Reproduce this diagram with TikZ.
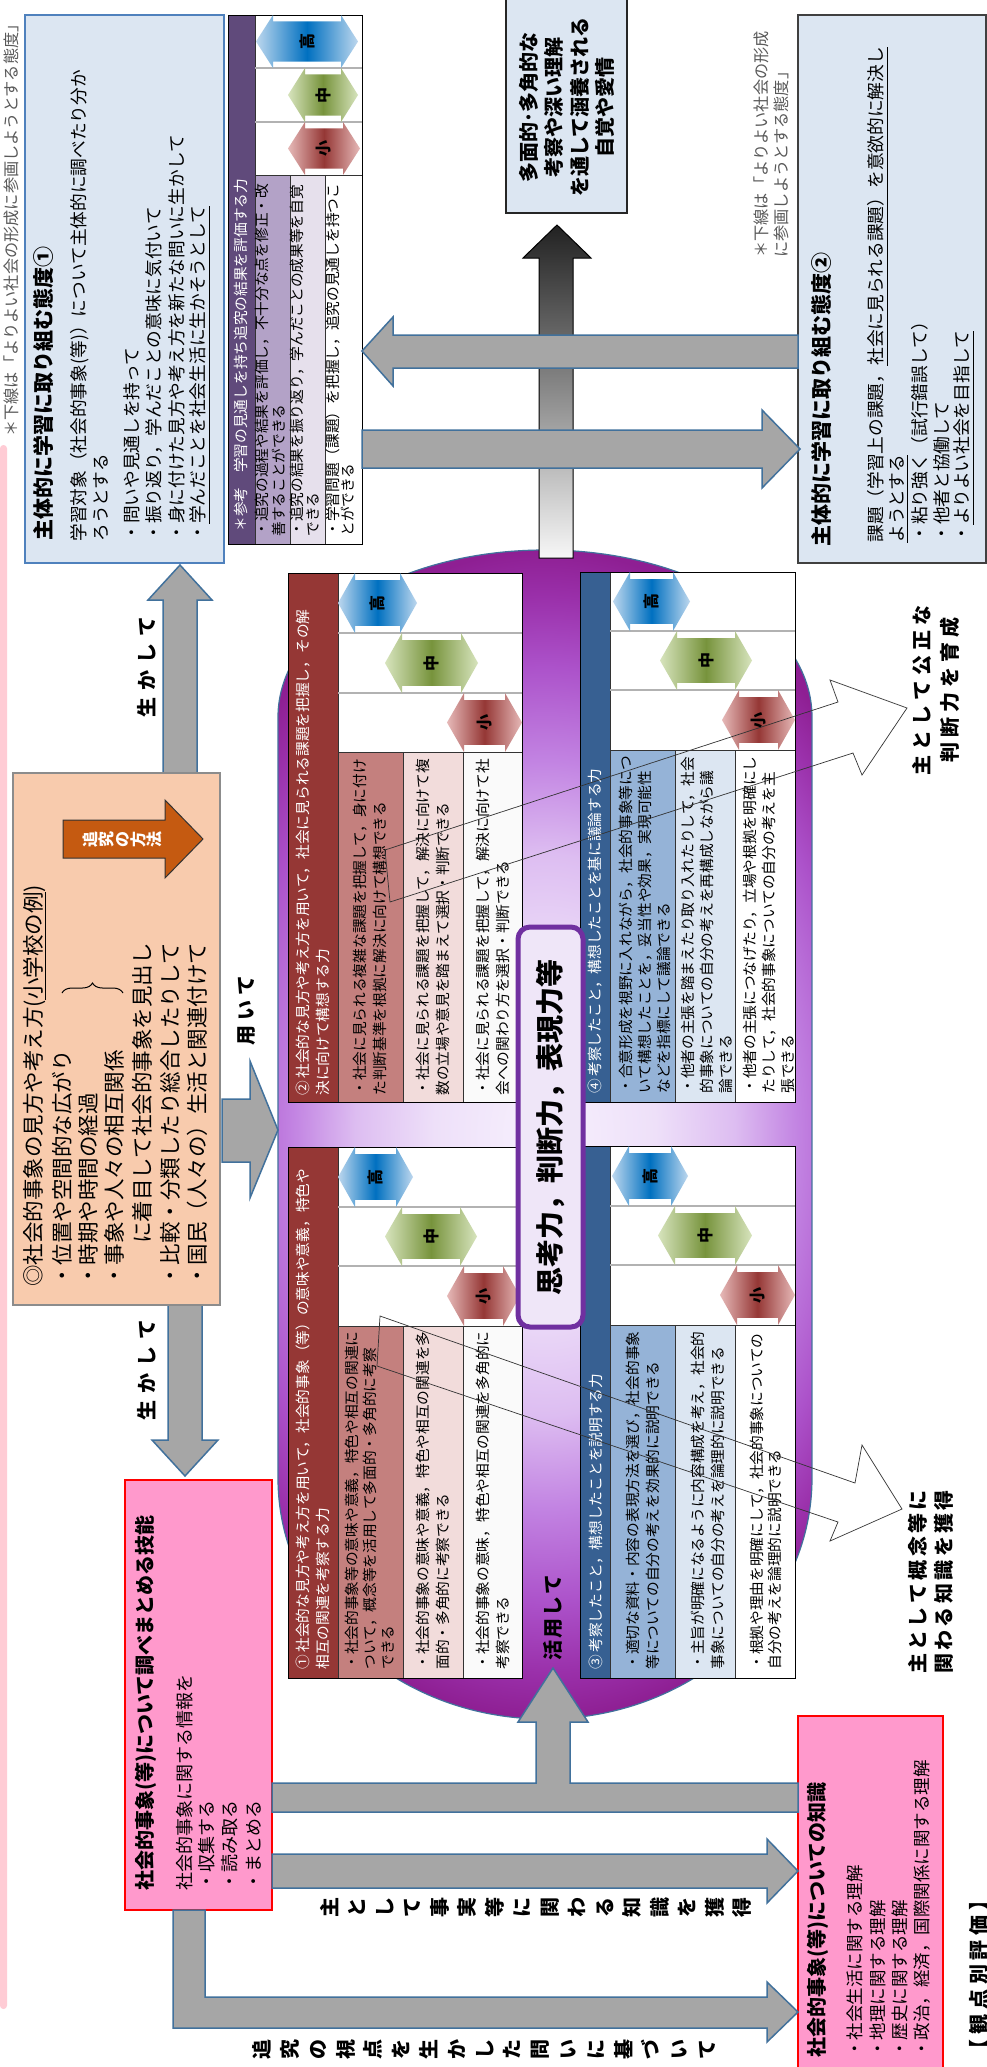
\documentclass[tikz,border=0pt]{standalone}
\usepackage{fontspec}
\setmainfont{Noto Sans CJK JP}
\usetikzlibrary{decorations.pathreplacing}
\definecolor{boxblue}{HTML}{DCE6F2}
\definecolor{boxoneborder}{HTML}{4F81BD}
\definecolor{arrgray}{HTML}{A6A6A6}
\definecolor{arrblue}{HTML}{41719C}
\definecolor{puH}{HTML}{604A7B}
\definecolor{puA}{HTML}{B3A2C7}
\definecolor{puB}{HTML}{E6E0EC}
\definecolor{puC}{HTML}{FFFFFF}
\definecolor{rdH}{HTML}{953735}
\definecolor{rdA}{HTML}{C4807E}
\definecolor{rdB}{HTML}{F2DCDB}
\definecolor{rdC}{HTML}{FAFAFA}
\definecolor{blH}{HTML}{376092}
\definecolor{blA}{HTML}{95B3D7}
\definecolor{blB}{HTML}{DCE6F2}
\definecolor{blC}{HTML}{FFFFFF}
\definecolor{buL}{HTML}{BDD7EE}
\definecolor{buD}{HTML}{0070C0}
\definecolor{grL}{HTML}{D7E4BD}
\definecolor{grD}{HTML}{77933C}
\definecolor{reL}{HTML}{E6B9B8}
\definecolor{reD}{HTML}{953735}
\definecolor{orangebox}{HTML}{F8CBAD}
\definecolor{orangearr}{HTML}{C55A11}
\definecolor{pinkbox}{HTML}{FF99CC}
\definecolor{pinkstrip}{HTML}{FFCCD5}
\definecolor{violetb}{HTML}{7030A0}
\definecolor{shikofill}{HTML}{EFE6F8}
\definecolor{notegray}{HTML}{595959}
\definecolor{bkTop}{HTML}{222222}
\definecolor{bkMid}{HTML}{8A8A8A}
\definecolor{bkBot}{HTML}{F7F7F7}
\definecolor{pg0}{HTML}{F7F1FD}
\definecolor{pg1}{HTML}{EEE0F9}
\definecolor{pg2}{HTML}{DDBDF1}
\definecolor{pg3}{HTML}{C283E2}
\definecolor{pg4}{HTML}{AC52CA}
\definecolor{pg5}{HTML}{9A30AA}
\definecolor{pg6}{HTML}{8E1F93}
\definecolor{pg7}{HTML}{7A1080}
\pgfdeclareradialshading{purpleglow}{\pgfpoint{0bp}{0bp}}{color(0bp)=(pg0); color(7bp)=(pg1); color(12bp)=(pg2); color(16bp)=(pg3); color(20bp)=(pg4); color(23bp)=(pg5); color(25bp)=(pg6); color(36bp)=(pg7); color(50bp)=(pg7)}
\makeatletter
\newcommand\pitched[2]{\@tfor\pch:=#2\do{\makebox[#1]{\pch}}}
\makeatother
\newcommand\myS{\fontsize{7.35}{9}\selectfont}
\newcommand\myM{\fontsize{8.85}{10}\selectfont}
\newcommand\myN{\fontsize{8.1}{9}\selectfont}
\newcommand\myT{\fontsize{10.5}{12}\selectfont\bfseries}
\newcommand\myO{\fontsize{10.75}{13}\selectfont}
\newcommand\myB{\fontsize{10}{12}\selectfont\bfseries}
\newcommand\myBB{\fontsize{10}{14}\selectfont\bfseries}
\newcommand\myK{\fontsize{9}{11}\selectfont}
\newcommand\myKK{\fontsize{8.75}{11}\selectfont}
\newcommand\myL{\fontsize{8}{9}\selectfont\bfseries}
\newcommand\tblbox[9]{%
 \fill[#9H] (#1,#6) rectangle (#2,#8);
 \fill[white] (#2,#6) rectangle (#5,#7);
 \fill[#9A] (#2,#7) rectangle (#3,#8);
 \fill[#9B] (#3,#7) rectangle (#4,#8);
 \fill[#9C] (#4,#7) rectangle (#5,#8);
 \draw[tsep] (#2,#7) -- (#5,#7) (#3,#7) -- (#3,#8) (#4,#7) -- (#4,#8) (#2,#6) -- (#2,#8);
 \draw[tborder] (#1,#6) rectangle (#5,#8);
}
\newcommand\dblarr[7]{%
 \pgfmathsetmacro\dxa{#1+17}\pgfmathsetmacro\dxb{#2-17}%
 \pgfmathsetmacro\dya{#3-#4}\pgfmathsetmacro\dyb{#3+#4}%
 \pgfmathsetmacro\dsa{#3-0.76*#4}\pgfmathsetmacro\dsb{#3+0.76*#4}%
 \shade[left color=#5L, right color=#5L, middle color=#5D] (#1,#3) -- (\dxa,\dya) -- (\dxa,\dsa) -- (\dxb,\dsa) -- (\dxb,\dya) -- (#2,#3) -- (\dxb,\dyb) -- (\dxb,\dsb) -- (\dxa,\dsb) -- (\dxa,\dyb) -- cycle;
 \node[rotate=90, inner sep=0pt, font=\myL] (#7) at ({(#1+#2)/2},#3) {#6};
}
\begin{document}
\begin{tikzpicture}[x=0.5pt,y=-0.5pt,
  lb/.style={rotate=90, anchor=west, inner sep=0pt},
  lbc/.style={rotate=90, anchor=center, inner sep=0pt, align=center},
  garrow/.style={fill=arrgray, draw=arrblue, line width=0.75pt, line join=miter},
  tborder/.style={draw=black, line width=0.5pt},
  tsep/.style={draw=black!80, line width=0.4pt},
  cellsep/.style={draw=black!30, line width=0.9pt},
  callout/.style={draw=black!80, line width=0.35pt, line join=miter},
  pinkframe/.style={fill=pinkbox, draw=red, line width=1.4pt},
  wtext/.style={text=white}]
\useasboundingbox (0,0) rectangle (986,2067);
\fill[white] (0,0) rectangle (986,2067);
% left pink strip
\fill[pinkstrip, rounded corners=1.7pt] (0,445) rectangle (7,2009);
% notes
\node[lb, font=\myN, text=notegray] (note1) at (11,437) {＊下線は「よりよい社会の形成に参画しようとする態度」};
\node[lb, font=\myN, text=notegray] (note2a) at (761,258) {＊下線は「よりよい社会の形成};
\node[lb, font=\myN, text=notegray] (note2b) at (781,258) {に参画しようとする態度」};
% box 1
\draw[fill=boxblue, draw=boxoneborder, line width=1pt] (25,15) rectangle (224,563);
\node[lb, font=\myT] (b1t) at (43,541) {主体的に学習に取り組む態度①};
\node[lb, font=\myM] (b1a) at (80,542) {学習対象（社会的事象(等)）について主体的に調べたり分か};
\node[lb, font=\myM] (b1b) at (101,542) {ろうとする};
\node[lb, font=\myM] (b1c) at (132,542) {・問いや見通しを持って};
\node[lb, font=\myM] (b1d) at (154,542) {・振り返り，学んだことの意味に気付いて};
\node[lb, font=\myM] (b1e) at (177,542) {・身に付けた見方や考え方を新たな問いに生かして};
\node[lb, font=\myM] (b1f) at (200,542) {・\underline{学んだことを社会生活に生かそうとして}};
% box 2
\draw[fill=boxblue, draw=black!75, line width=0.75pt] (798,15) rectangle (986,563);
\node[lb, font=\myT] (b2t) at (821,547) {主体的に学習に取り組む態度②};
\node[lb, font=\myM] (b2a) at (878,543) {課題（学習上の課題，\underline{社会に見られる課題）を意欲的に解決し}};
\node[lb, font=\myM] (b2b) at (899,543) {\underline{ようとする}};
\node[lb, font=\myM] (b2c) at (920,543) {・粘り強く（試行錯誤して）};
\node[lb, font=\myM] (b2d) at (942,543) {・他者と協働して};
\node[lb, font=\myM] (b2e) at (964,543) {・\underline{よりよい社会を目指して}};
% top box
\draw[fill=boxblue, draw=black!85, line width=0.75pt] (506,-2) rectangle (627,213);
\node[lbc, font=\fontsize{10}{12.75}\selectfont\bfseries] (topbox) at (567,107) {多面的･多角的な\\考察や深い理解\\を通して涵養される\\自覚や愛情};
% reference table
\tblbox{228}{255}{290}{325}{362}{15}{175}{544}{pu}
\draw[cellsep] (255,68) -- (362,68) (255,122) -- (362,122);
\draw[tsep] (255,175) -- (362,175);
\dblarr{256}{358}{41.5}{26.5}{bu}{高}{rfh}
\dblarr{288}{358}{95}{27}{gr}{中}{rfm}
\dblarr{288}{360}{148.5}{26.5}{re}{小}{rfl}
\node[lb, font=\myS, wtext] (rfhd) at (241,532) {＊参考　学習の見通しを持ち追究の結果を評価する力};
\node[lb, font=\myS] (rf1a) at (262,537) {・追究の過程や結果を評価し，不十分な点を修正・改};
\node[lb, font=\myS] (rf1b) at (279,537) {善することができる};
\node[lb, font=\myS] (rf2a) at (297,537) {・追究の結果を振り返り，学んだことの成果等を自覚};
\node[lb, font=\myS] (rf2b) at (313,537) {できる};
\node[lb, font=\myS] (rf3a) at (333,537) {・学習問題（課題）を把握し，追究の見通しを持つこ};
\node[lb, font=\myS] (rf3b) at (348,537) {とができる};
% purple capsule
\begin{scope}
\clip (278,717) arc[start angle=180,end angle=360,x radius=267,y radius=167] -- (812,1478) arc[start angle=0,end angle=180,x radius=267,y radius=241] -- cycle;
\shade[shading=purpleglow] (150,550) rectangle (940,1719);
\end{scope}
\draw[arrblue, line width=0.6pt] (278,717) arc[start angle=180,end angle=360,x radius=267,y radius=167] -- (812,1478) arc[start angle=0,end angle=180,x radius=267,y radius=241] -- cycle;
% black arrow up
\shadedraw[top color=bkTop, bottom color=bkBot, middle color=bkMid, draw=black, line width=0.5pt] (539,558) -- (539,258) -- (523,258) -- (557,225) -- (591,258) -- (573,258) -- (573,558) -- cycle;
% gray arrows top
\draw[garrow] (798,335) -- (393,335) -- (393,317) -- (362,351) -- (393,386) -- (393,368) -- (798,368) -- cycle;
\draw[garrow] (362,430) -- (762,430) -- (762,410) -- (800,449) -- (762,488) -- (762,468) -- (362,468) -- cycle;
% up arrow to box 1 and down arrow to skill box
\draw[garrow] (163,773) -- (163,600) -- (148,600) -- (180,565) -- (212,600) -- (197,600) -- (197,773) -- cycle;
\draw[garrow] (168,1305) -- (202,1305) -- (202,1440) -- (218,1440) -- (185,1476) -- (152,1440) -- (168,1440) -- cycle;
\node[lbc, font=\myBB] (ikashi1) at (147,667) {\pitched{13.5pt}{生かして}};
\node[lbc, font=\myBB] (ikashi2) at (147,1370) {\pitched{13.5pt}{生かして}};
% use arrow
\draw[garrow] (222,1099) -- (250,1099) -- (250,1061) -- (278,1130) -- (250,1198) -- (250,1162) -- (222,1162) -- cycle;
\node[lbc, font=\myBB] (mochiite) at (247,1010) {\pitched{12.5pt}{用いて}};
% orange box
\draw[fill=orangebox, draw=black!45, line width=0.6pt] (13,773) rectangle (220,1305);
\draw[fill=orangearr, draw=black!80, line width=0.5pt] (63,820) -- (165,820) -- (165,800) -- (203,839) -- (165,878) -- (165,858) -- (63,858) -- cycle;
\node[lbc, font=\fontsize{8}{8}\selectfont\bfseries, text=white] (tsm) at (122,839) {追\\究\\の\\方\\法};
\node[lb, font=\myO] (o1) at (35,1287) {◎社会的事象の見方や考え方(\underline{小学校の例})};
\node[lb, font=\myO] (o2) at (62,1287) {・位置や空間的な広がり};
\node[lb, font=\myO] (o3) at (88,1287) {・時期や時間の経過};
\node[lb, font=\myO] (o4) at (114,1287) {・事象や人々の相互関係};
\node[lb, font=\myO] (o5) at (142,1244) {に着目して社会的事象を見出し};
\node[lb, font=\myO] (o6) at (170,1287) {・比較・分類したり総合したりして};
\node[lb, font=\myO] (o7) at (197,1287) {・国民（人々の）生活と関連付けて};
\draw[decorate, decoration={brace, amplitude=5pt}, line width=0.5pt] (62,993) -- (123,993);
% skill box
\draw[pinkframe] (125,1480) rectangle (272,1910);
\node[lb, font=\myB] (s1) at (146,1891) {社会的事象(等)について調べまとめる技能};
\node[lb, font=\myK] (s2) at (185,1891) {社会的事象に関する情報を};
\node[lb, font=\myK] (s3) at (207,1891) {・収集する};
\node[lb, font=\myK] (s4) at (230,1891) {・読み取る};
\node[lb, font=\myK] (s5) at (254,1891) {・まとめる};
% knowledge box
\draw[pinkframe] (798,1716) rectangle (943,2075);
\node[lb, font=\myB] (k1) at (818,2058) {社会的事象(等)についての知識};
\node[lb, font=\myKK] (k2) at (855,2058) {・社会生活に関する理解};
\node[lb, font=\myKK] (k3) at (878,2058) {・地理に関する理解};
\node[lb, font=\myKK] (k4) at (900,2058) {・歴史に関する理解};
\node[lb, font=\myKK] (k5) at (922,2058) {・政治，経済，国際関係に関する理解};
% bottom arrows
\draw[garrow] (272,1783) -- (536,1783) -- (536,1722) -- (518,1722) -- (553,1668) -- (588,1722) -- (570,1722) -- (570,1783) -- (798,1783) -- (798,1812) -- (272,1812) -- cycle;
\draw[garrow] (272,1854) -- (767,1854) -- (767,1839) -- (798,1871) -- (767,1903) -- (767,1888) -- (272,1888) -- cycle;
\draw[garrow] (173,1910) -- (205,1910) -- (205,1997) -- (767,1997) -- (767,1982) -- (798,2012) -- (767,2042) -- (767,2028) -- (173,2028) -- cycle;
\node[lbc, font=\fontsize{10}{13.75}\selectfont\bfseries] (v1) at (536,1907) {主\\と\\し\\て\\事\\実\\等\\に\\関\\わ\\る\\知\\識\\を\\獲\\得};
\node[lbc, font=\fontsize{10}{13.9}\selectfont\bfseries] (v2) at (484,2049) {追\\究\\の\\視\\点\\を\\生\\か\\し\\た\\問\\い\\に\\基\\づ\\い\\て};
\node[lb, font=\myBB] (kanten) at (979,2062) {\pitched{12.4pt}{【観点別評価】}};
% tables
\tblbox{288}{338}{403}{463}{522}{573}{752}{1102}{rd}
\draw[cellsep] (338,633) -- (522,633) (338,693) -- (522,693);
\tblbox{580}{610}{675}{735}{795}{572}{750}{1102}{bl}
\draw[cellsep] (610,631) -- (795,631) (610,690) -- (795,690);
\tblbox{288}{338}{403}{463}{522}{1147}{1326}{1678}{rd}
\draw[cellsep] (338,1207) -- (522,1207) (338,1266) -- (522,1266);
\tblbox{580}{610}{675}{735}{795}{1146}{1325}{1678}{bl}
\draw[cellsep] (610,1206) -- (795,1206) (610,1265) -- (795,1265);
\dblarr{338}{417}{603}{30}{bu}{高}{t2h}
\dblarr{385}{478}{663}{30}{gr}{中}{t2m}
\dblarr{447}{522}{722.5}{29.5}{re}{小}{t2l}
\dblarr{613}{690}{601.5}{29.5}{bu}{高}{t4h}
\dblarr{660}{752}{660.5}{29.5}{gr}{中}{t4m}
\dblarr{722}{795}{720}{30}{re}{小}{t4l}
\dblarr{338}{413}{1177}{30}{bu}{高}{t1h}
\dblarr{385}{477}{1236.5}{29.5}{gr}{中}{t1m}
\dblarr{447}{520}{1296}{30}{re}{小}{t1l}
\dblarr{612}{688}{1176}{30}{bu}{高}{t3h}
\dblarr{658}{752}{1235.5}{29.5}{gr}{中}{t3m}
\dblarr{720}{795}{1295}{30}{re}{小}{t3l}
% table 2 texts
\node[lb, font=\myS, wtext] (t2x1) at (303,1096) {②\,社会的な見方や考え方を用いて，社会に見られる課題を把握し，その解};
\node[lb, font=\myS, wtext] (t2x2) at (323,1096) {決に向けて構想する力};
\node[lb, font=\myS] (t2a1) at (360,1096) {・社会に見られる複雑な課題を把握して，身に付け};
\node[lb, font=\myS] (t2a2) at (380,1096) {た判断基準を根拠に解決に向けて構想できる};
\node[lb, font=\myS] (t2b1) at (423,1096) {・社会に見られる課題を把握して，解決に向けて複};
\node[lb, font=\myS] (t2b2) at (443,1096) {数の立場や意見を踏まえて選択・判断できる};
\node[lb, font=\myS] (t2c1) at (483,1096) {・社会に見られる課題を把握して，解決に向けて社};
\node[lb, font=\myS] (t2c2) at (503,1096) {会への関わり方を選択・判断できる};
% table 4 texts
\node[lb, font=\myS, wtext] (t4x1) at (595,1094) {④\,考察したこと，構想したことを基に議論する力};
\node[lb, font=\myS] (t4a1) at (626,1094) {・合意形成を視野に入れながら，社会的事象等につ};
\node[lb, font=\myS] (t4a2) at (645,1094) {いて構想したことを，妥当性や効果，実現可能性};
\node[lb, font=\myS] (t4a3) at (664,1094) {などを指標にして議論できる};
\node[lb, font=\myS] (t4b1) at (688,1094) {・他者の主張を踏まえたり取り入れたりして，社会};
\node[lb, font=\myS] (t4b2) at (707,1094) {的事象についての自分の考えを再構成しながら議};
\node[lb, font=\myS] (t4b3) at (726,1094) {論できる};
\node[lb, font=\myS] (t4c1) at (750,1094) {・他者の主張につなげたり，立場や根拠を明確にし};
\node[lb, font=\myS] (t4c2) at (769,1094) {たりして，社会的事象についての自分の考えを主};
\node[lb, font=\myS] (t4c3) at (788,1094) {張できる};
% table 1 texts
\node[lb, font=\myS, wtext] (t1x1) at (303,1670) {①\,社会的な見方や考え方を用いて，社会的事象（等）の意味や意義，特色や};
\node[lb, font=\myS, wtext] (t1x2) at (323,1670) {相互の関連を考察する力};
\node[lb, font=\myS] (t1a1) at (352,1670) {・社会的事象等の意味や意義，特色や相互の関連に};
\node[lb, font=\myS] (t1a2) at (370,1670) {ついて，概念等を活用して多面的・多角的に考察};
\node[lb, font=\myS] (t1a3) at (388,1670) {できる};
\node[lb, font=\myS] (t1b1) at (423,1670) {・社会的事象の意味や意義，特色や相互の関連を多};
\node[lb, font=\myS] (t1b2) at (443,1670) {面的・多角的に考察できる};
\node[lb, font=\myS] (t1c1) at (483,1670) {・社会的事象の意味，特色や相互の関連を多角的に};
\node[lb, font=\myS] (t1c2) at (503,1670) {考察できる};
% table 3 texts
\node[lb, font=\myS, wtext] (t3x1) at (596,1670) {③\,考察したこと，構想したことを説明する力};
\node[lb, font=\myS] (t3a1) at (633,1670) {・適切な資料・内容の表現方法を選び，社会的事象};
\node[lb, font=\myS] (t3a2) at (653,1670) {等についての自分の考えを効果的に説明できる};
\node[lb, font=\myS] (t3b1) at (698,1670) {・主旨が明確になるように内容構成を考え，社会的};
\node[lb, font=\myS] (t3b2) at (718,1670) {事象についての自分の考えを論理的に説明できる};
\node[lb, font=\myS] (t3c1) at (757,1670) {・根拠や理由を明確にして，社会的事象についての};
\node[lb, font=\myS] (t3c2) at (775,1670) {自分の考えを論理的に説明できる};
% thinking box
\draw[draw=violetb, line width=2.5pt, fill=shikofill, rounded corners=6pt] (518,927) rectangle (583,1327);
\node[rotate=90, inner sep=0pt, font=\fontsize{14}{16}\selectfont\bfseries] (shiko) at (550.5,1127) {思考力，判断力，表現力等};
\node[lb, font=\myBB] (katsuyo) at (553,1662) {\pitched{11pt}{活用して}};
% callouts
\draw[callout] (385,850) -- (838,702) -- (830,680) -- (907,708) -- (862,775) -- (853,753) -- (390,902) -- cycle;
\draw[callout] (380,1316) -- (855,1483) -- (862,1445) -- (902,1509) -- (830,1541) -- (838,1522) -- (377,1366) -- cycle;
\node[lbc, font=\myBB] (c1) at (936,690) {\pitched{12.5pt}{主として公正な}\\\pitched{12.5pt}{判断力を育成}};
\node[lbc, font=\fontsize{10}{13}\selectfont\bfseries] (c2) at (931,1582) {\pitched{11.7pt}{主として概念等に}\\\pitched{11.7pt}{関わる知識を獲得}};
\end{tikzpicture}
\end{document}
